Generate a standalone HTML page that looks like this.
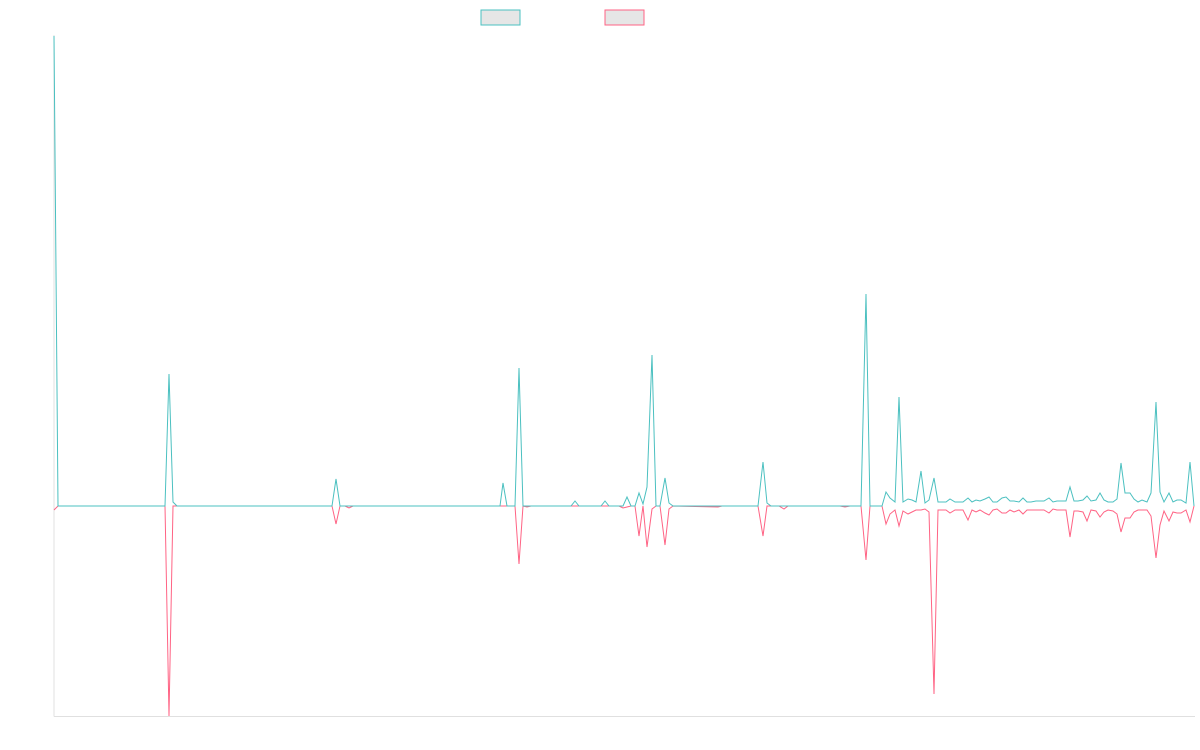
<!DOCTYPE html>
<html><head><meta charset="utf-8"><style>html,body{margin:0;padding:0;background:#fff}svg{display:block}</style></head>
<body>
<svg width="1200" height="750" viewBox="0 0 1200 750" xmlns="http://www.w3.org/2000/svg">
<rect x="481" y="10" width="39" height="15" fill="#e6e6e6" stroke="rgb(75,192,192)" stroke-width="1"/>
<rect x="605" y="10" width="39" height="15" fill="#e6e6e6" stroke="rgb(255,99,132)" stroke-width="1"/>
<line x1="54" y1="35" x2="54" y2="716.5" stroke="#e0e0e0"/>
<line x1="54" y1="716.5" x2="1195" y2="716.5" stroke="#e0e0e0"/>
<polyline fill="none" stroke="rgb(255,99,132)" stroke-width="1" points="54,510 58,506 165,506 169,716 173,506 332,506 336,524 340,506 345,506 349,508 353,506 515,506 519,564 523,506 527,507 531,506 619,506 623,508 627,507 631,506 635,506 639,536 643,506 647,547 652,509 656,506 660,506 665,545 669,509 673,506 718,507 722,506 758,506 763,536 767,506 779,506 784,509 788,506 840,506 845,507 850,506 861,506 866,560 870,506 882,506 886,524 890,514 895,510 899,526 903,511 908,514 912,512 916,510 921,510 925,509 929,512 934,694 938,510 942,510 946,510 950,513 955,510 959,510 963,510 968,520 972,510 976,512 980,510 985,513 989,515 993,510 997,509 1002,513 1006,513 1010,510 1014,512 1019,510 1023,514 1027,510 1031,510 1036,510 1040,510 1044,510 1049,513 1053,509 1057,510 1061,510 1066,510 1070,537 1074,511 1078,511 1083,512 1087,521 1091,510 1096,511 1100,517 1104,512 1108,510 1113,511 1117,514 1121,532 1125,518 1130,518 1134,512 1138,510 1142,510 1147,510 1151,516 1156,558 1160,525 1164,511 1169,521 1173,512 1177,513 1181,513 1186,510 1190,522 1194,506"/>
<polyline fill="none" stroke="rgb(75,192,192)" stroke-width="1" points="54,36 58,506 165,506 169,374 173,502 177,506 332,506 336,479 340,506 500,506 503,483 507,506 515,506 519,368 523,506 571,506 575,501 579,506 601,506 605,501 609,506 623,506 627,497 631,506 635,506 639,493 643,504 647,487 652,355 656,506 660,506 665,478 669,503 673,506 758,506 763,462 767,503 771,506 861,506 866,294 870,506 882,506 886,492 890,498 895,502 899,397 903,502 908,499 912,500 916,502 921,471 925,503 929,500 934,478 938,502 942,502 946,502 950,499 955,502 959,502 963,502 968,498 972,502 976,500 980,501 985,499 989,497 993,502 997,502 1002,498 1006,497 1010,501 1014,501 1019,502 1023,498 1027,502 1031,502 1036,501 1040,501 1044,501 1049,498 1053,502 1057,501 1061,501 1066,501 1070,487 1074,501 1078,501 1083,500 1087,496 1091,501 1096,500 1100,493 1104,500 1108,502 1113,502 1117,499 1121,463 1125,493 1130,493 1134,499 1138,502 1142,500 1147,502 1151,493 1156,402 1160,492 1164,502 1169,493 1173,502 1177,500 1181,500 1186,503 1190,462 1194,506"/>
</svg>
</body></html>
